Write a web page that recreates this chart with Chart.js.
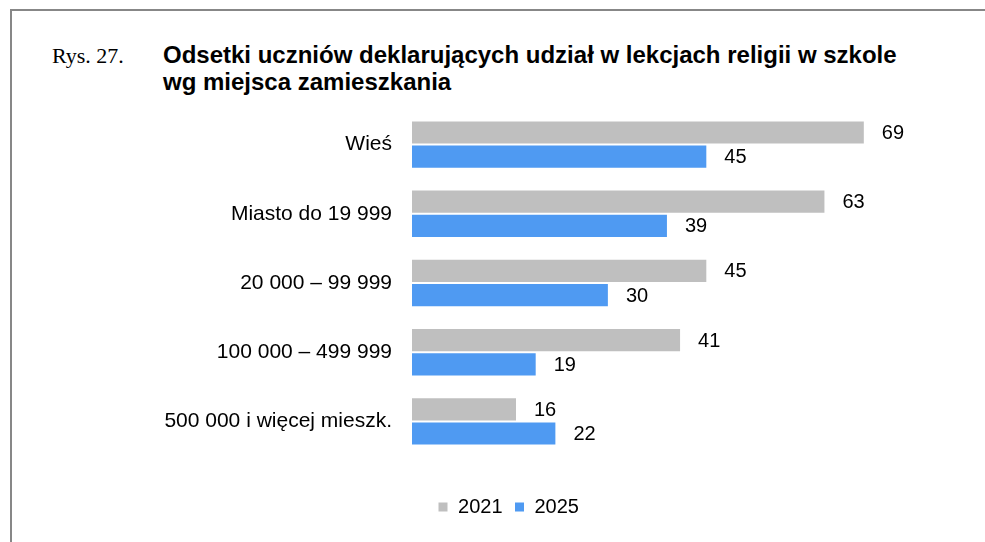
<!DOCTYPE html>
<html>
<head>
<meta charset="utf-8">
<script src="https://cdn.jsdelivr.net/npm/chart.js@4"></script>
<style>
  html, body { margin: 0; padding: 0; background: #fff; }
  #wrap { position: relative; width: 985px; height: 542px; overflow: hidden; }
  #frame { position: absolute; left: 10px; top: 9px; width: 980px; height: 540px;
           border-left: 2px solid #878787; border-top: 2px solid #878787; }
  #rys { position: absolute; left: 52px; top: 42px; font-family: "Liberation Serif", "Times New Roman", serif;
         font-size: 22px; line-height: 27px; color: #000; }
  #title { position: absolute; left: 163px; top: 41px; font-family: "Liberation Sans", Arial, sans-serif;
           font-weight: bold; font-size: 24px; line-height: 27px; color: #000; }
  canvas { position: absolute; left: 0; top: 0; }
</style>
</head>
<body>
<div id="wrap">
  <div id="frame"></div>
  <div id="rys">Rys. 27.</div>
  <div id="title">Odsetki uczniów deklarujących udział w lekcjach religii w szkole<br>wg miejsca zamieszkania</div>
  <canvas id="myChart" width="985" height="542"></canvas>
</div>
<script>
const categories = ['Wieś', 'Miasto do 19 999', '20 000 – 99 999', '100 000 – 499 999', '500 000 i więcej mieszk.'];
const seriesNames = ['2021', '2025'];
const values2021 = [69, 63, 45, 41, 16];
const values2025 = [45, 39, 30, 19, 22];

const ctx = document.getElementById('myChart');

// write the value next to the end of each bar
const barLabels = {
    id: 'barLabels',
    afterDatasetsDraw(chart) {
        const c = chart.ctx;
        c.save();
        c.font = '20px "Liberation Sans", Arial, sans-serif';
        c.fillStyle = '#000';
        c.textAlign = 'left';
        c.textBaseline = 'middle';
        chart.data.datasets.forEach(function (ds, i) {
            chart.getDatasetMeta(i).data.forEach(function (bar, j) {
                c.fillText(ds.data[j], bar.x + 17, bar.y + 1);
            });
        });
        c.restore();
    }
};

// legend in the reference sits a bit right of the page centre
const shiftLegend = {
    id: 'shiftLegend',
    afterLayout(chart) {
        chart.legend.left += 80;
    }
};

new Chart(ctx, {
    type: 'bar',
    data: {
        labels: categories,
        datasets: [{
            label: seriesNames[0],
            data: values2021,
            backgroundColor: '#bfbfbf',
            borderColor: '#ffffff',
            borderWidth: 1,
            categoryPercentage: 0.7,
            barPercentage: 1.0
        }, {
            label: seriesNames[1],
            data: values2025,
            backgroundColor: '#4f9af2',
            borderColor: '#ffffff',
            borderWidth: 1,
            categoryPercentage: 0.7,
            barPercentage: 1.0
        }]
    },
    options: {
        indexAxis: 'y',
        responsive: false,
        animation: false,
        layout: { padding: { top: 110, right: 48, left: 0, bottom: 15 } },
        scales: {
            x: {
                display: true, min: 0, max: 80,
                grid: { display: false, drawTicks: false },
                border: { display: false },
                ticks: { display: false },
                afterFit: function (scale) { scale.height = 29; }
            },
            y: {
                grid: { display: false, drawTicks: false },
                border: { display: false },
                ticks: {
                    color: '#000',
                    padding: 20,
                    font: { family: '"Liberation Sans", Arial, sans-serif', size: 21 }
                },
                afterFit: function (scale) { scale.width = 412; }
            }
        },
        plugins: {
            legend: {
                position: 'bottom',
                labels: {
                    color: '#000',
                    boxWidth: 10,
                    boxHeight: 10,
                    padding: 12,
                    font: { family: '"Liberation Sans", Arial, sans-serif', size: 20 }
                }
            },
            tooltip: { enabled: false }
        }
    },
    plugins: [barLabels, shiftLegend]
});
</script>
</body>
</html>
